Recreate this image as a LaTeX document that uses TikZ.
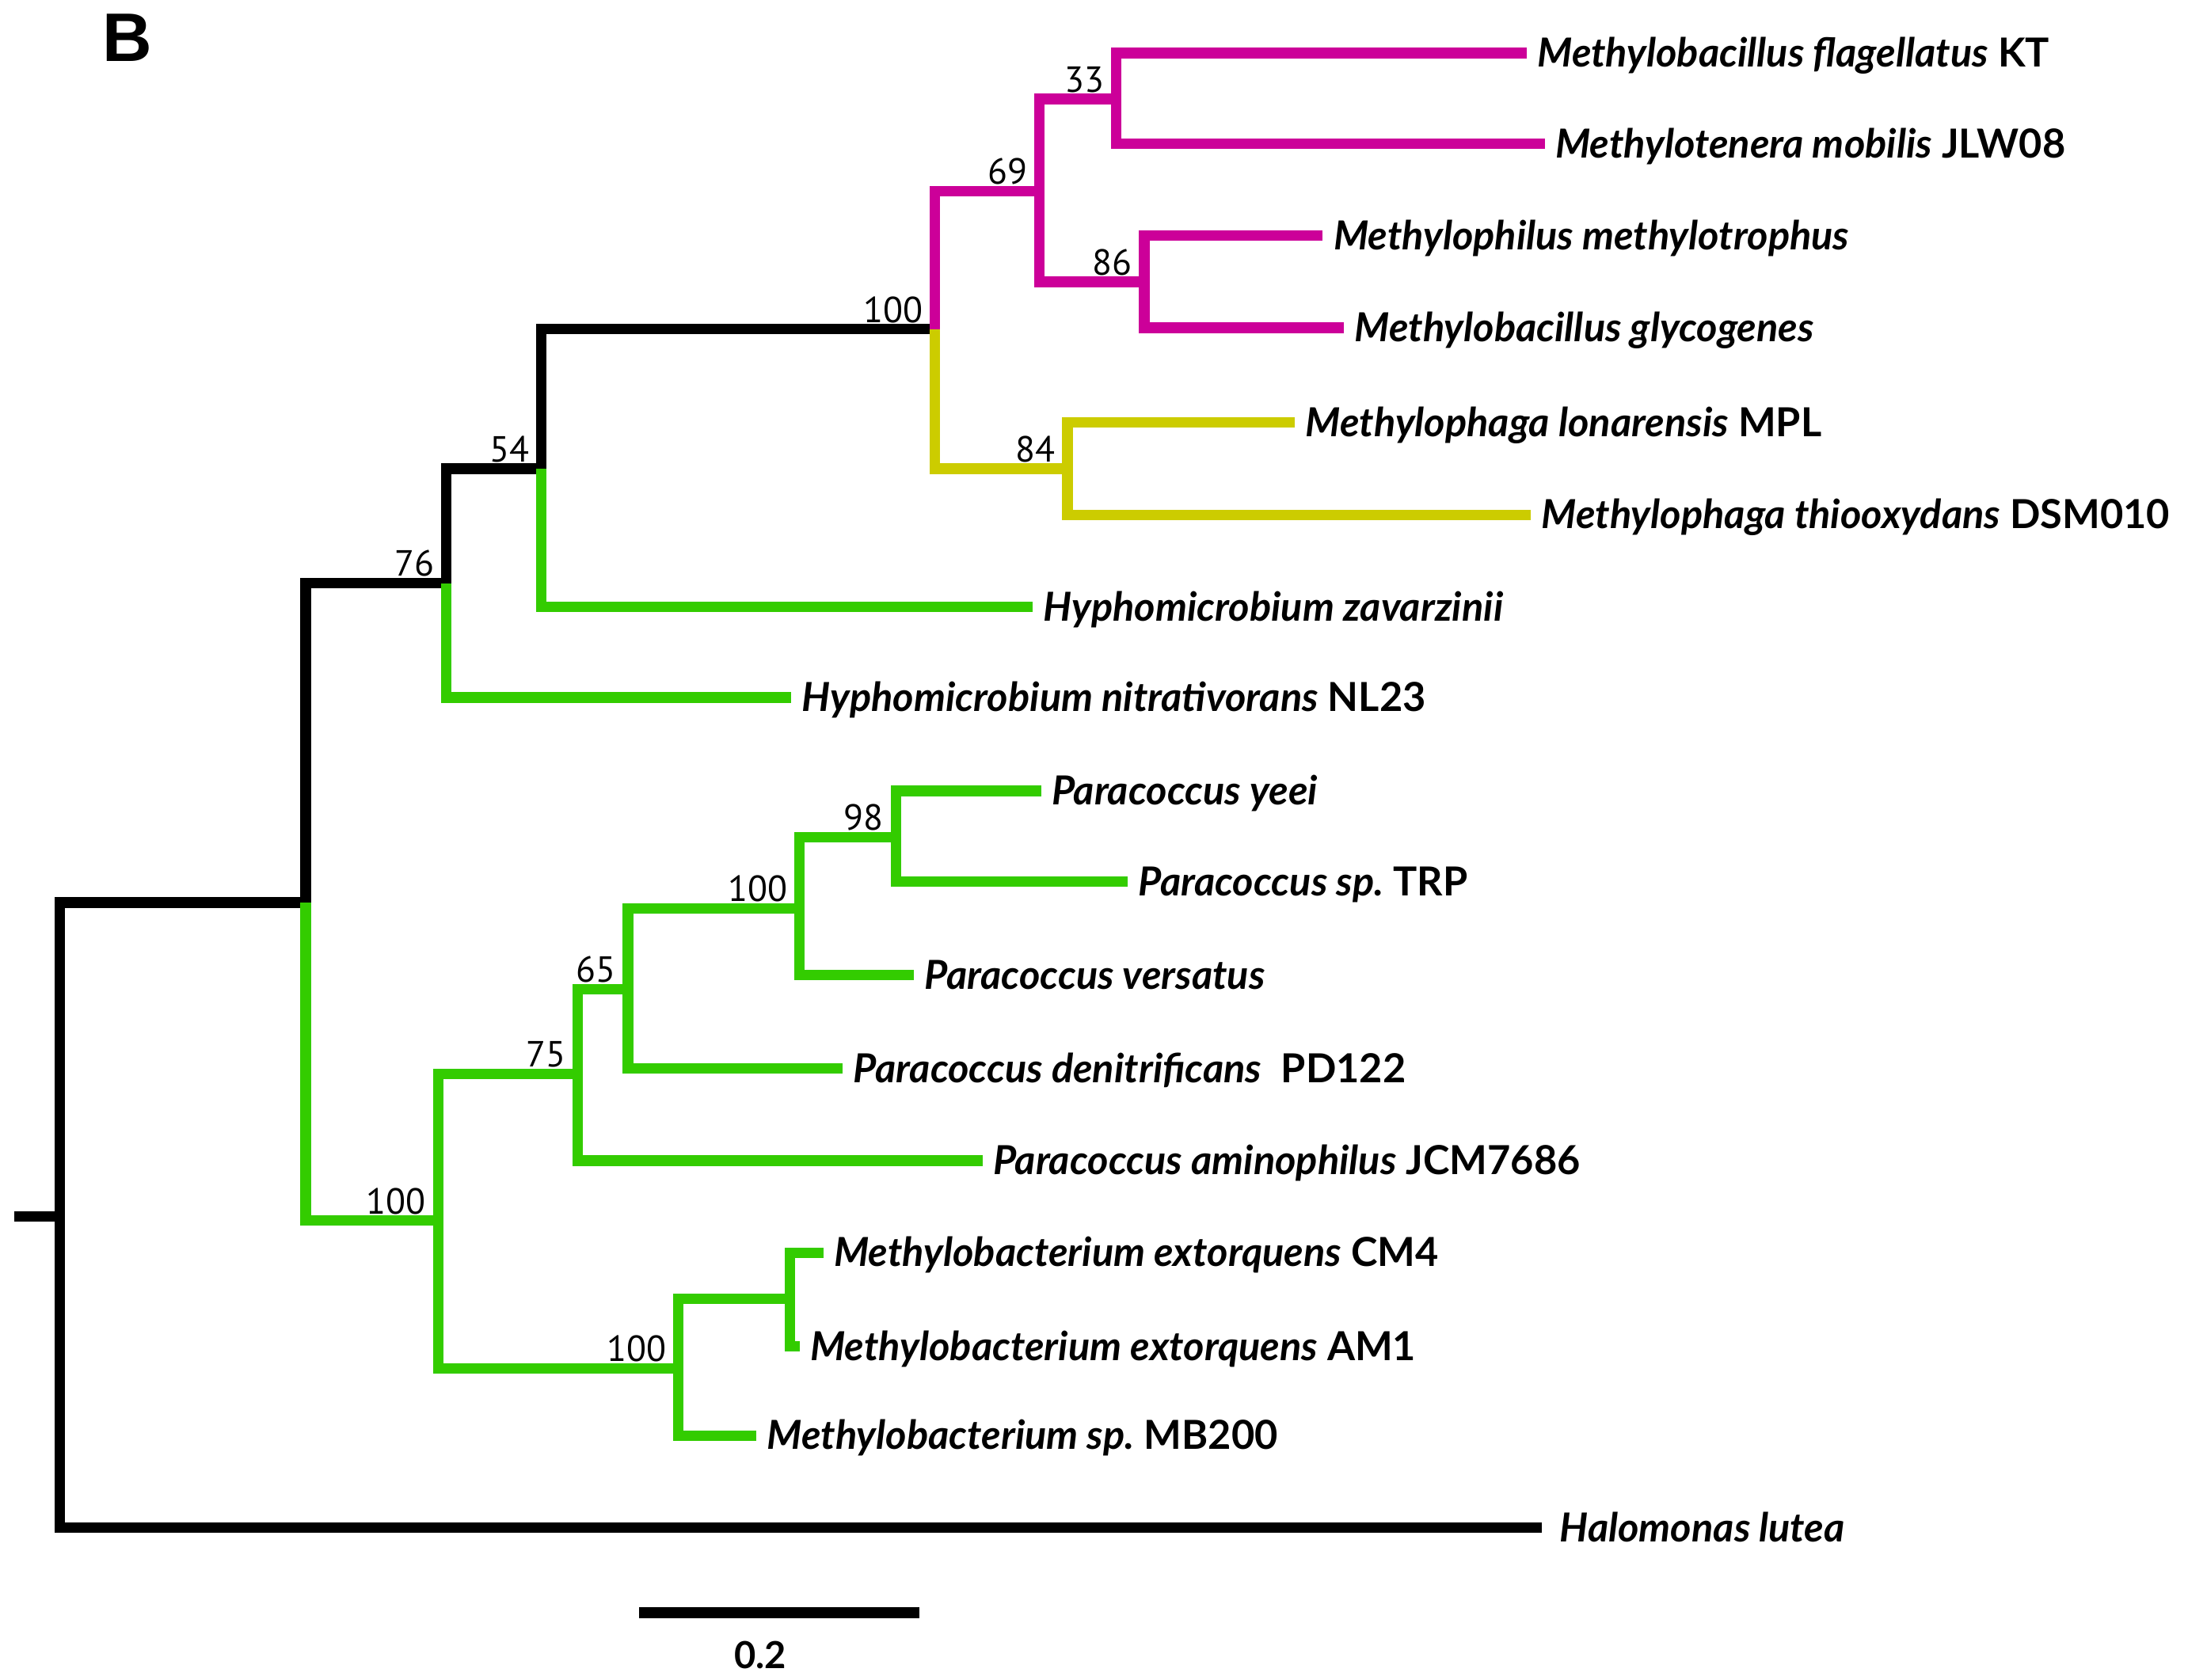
\documentclass[tikz,border=0pt]{standalone}
\usepackage{fontspec}
\setmainfont{Lato}
\newfontfamily\bootfont{PT Sans}
\newfontfamily\panelfont{Liberation Sans}
\definecolor{clademagenta}{RGB}{204,0,153}
\definecolor{cladeyellow}{RGB}{204,204,0}
\definecolor{cladegreen}{RGB}{51,204,0}
\tikzset{
	branch/.style={line width=2.13pt},
	blackbranch/.style={branch,black},
	magbranch/.style={branch,clademagenta},
	yelbranch/.style={branch,cladeyellow},
	greenbranch/.style={branch,cladegreen},
	taxon/.style={anchor=base west,inner sep=0pt,xshift=0.07cm,yshift=-0.1cm,font=\fontsize{8.15}{9}\selectfont\bfseries},
	boot/.style={anchor=base east,inner sep=0pt,xshift=-0.08cm,yshift=0.05cm,font=\bootfont\fontsize{7.4}{8}\selectfont},
}
\begin{document}
\begin{tikzpicture}[x=0.01cm,y=-0.01cm]
			\useasboundingbox (0,0) rectangle (1568,1204);
			\newcommand{\mysp}[2]{{\itshape #1}~#2}
			%Panel letter
			\node [anchor=base west,inner sep=0pt,font=\panelfont\fontsize{14}{16}\selectfont\bfseries] (panel) at (73,44) {B};
			%Root and its stub
			\coordinate (stub) at (10,872);
			\coordinate (root) at (43,872);
			\draw [blackbranch] (stub) -- (root);
			%Inner nodes
			\coordinate (nA) at (219,647);
			\coordinate (n76) at (320,418);
			\coordinate (n54) at (388,336);
			\coordinate (n100a) at (670,236);
			\coordinate (n69) at (745,137);
			\coordinate (n33) at (800,71);
			\coordinate (n86) at (820,202);
			\coordinate (n84) at (765,336);
			\coordinate (n100b) at (314,875);
			\coordinate (n75) at (414,770);
			\coordinate (n65) at (450,709);
			\coordinate (n100d) at (573,651);
			\coordinate (n98) at (642,600);
			\coordinate (n100c) at (486,981);
			\coordinate (nCM) at (566,931);
			%Tips
			\coordinate (tflag) at (1094,38);
			\coordinate (tmob) at (1107,103);
			\coordinate (tmeth) at (948,169);
			\coordinate (tglyc) at (963,235);
			\coordinate (tlon) at (928,303);
			\coordinate (tthio) at (1097,369);
			\coordinate (tzav) at (740,435);
			\coordinate (tnl) at (567,500);
			\coordinate (tyeei) at (746,567);
			\coordinate (ttrp) at (808,632);
			\coordinate (tvers) at (655,699);
			\coordinate (tdenit) at (604,766);
			\coordinate (tamino) at (704,832);
			\coordinate (tcm) at (590,898);
			\coordinate (tam) at (573,965);
			\coordinate (tmb) at (542,1029);
			\coordinate (thal) at (1105,1095);
			%Black backbone
			\draw [blackbranch] (root) |- (nA);
			\draw [blackbranch] (root) |- (thal);
			\draw [blackbranch] (nA) |- (n76);
			\draw [blackbranch] (n76) |- (n54);
			\draw [blackbranch] (n54) |- (n100a);
			%Magenta clade
			\draw [magbranch] (n100a) |- (n69);
			\draw [magbranch] (n69) |- (n33);
			\draw [magbranch] (n69) |- (n86);
			\draw [magbranch] (n33) |- (tflag);
			\draw [magbranch] (n33) |- (tmob);
			\draw [magbranch] (n86) |- (tmeth);
			\draw [magbranch] (n86) |- (tglyc);
			%Yellow clade
			\draw [yelbranch] (n100a) |- (n84);
			\draw [yelbranch] (n84) |- (tlon);
			\draw [yelbranch] (n84) |- (tthio);
			%Green branches
			\draw [greenbranch] (n54) |- (tzav);
			\draw [greenbranch] (n76) |- (tnl);
			\draw [greenbranch] (nA) |- (n100b);
			\draw [greenbranch] (n100b) |- (n75);
			\draw [greenbranch] (n100b) |- (n100c);
			\draw [greenbranch] (n75) |- (n65);
			\draw [greenbranch] (n75) |- (tamino);
			\draw [greenbranch] (n65) |- (n100d);
			\draw [greenbranch] (n65) |- (tdenit);
			\draw [greenbranch] (n100d) |- (n98);
			\draw [greenbranch] (n100d) |- (tvers);
			\draw [greenbranch] (n98) |- (tyeei);
			\draw [greenbranch] (n98) |- (ttrp);
			\draw [greenbranch] (n100c) |- (nCM);
			\draw [greenbranch] (n100c) |- (tmb);
			\draw [greenbranch] (nCM) |- (tcm);
			\draw [greenbranch] (nCM) |- (tam);
			%Bootstrap values
			\node [boot] (b76) at (n76) {76};
			\node [boot] (b54) at (n54) {54};
			\node [boot] (b100a) at (n100a) {100};
			\node [boot] (b69) at (n69) {69};
			\node [boot] (b33) at (n33) {33};
			\node [boot] (b86) at (n86) {86};
			\node [boot] (b84) at (n84) {84};
			\node [boot] (b100b) at (n100b) {100};
			\node [boot] (b75) at (n75) {75};
			\node [boot] (b65) at (n65) {65};
			\node [boot] (b100d) at (n100d) {100};
			\node [boot] (b98) at (n98) {98};
			\node [boot] (b100c) at (n100c) {100};
			%Taxa
			\node [taxon] (lflag) at (tflag) {\mysp{Methylobacillus flagellatus}{KT}};
			\node [taxon] (lmob) at (tmob) {\mysp{Methylotenera mobilis}{JLW08}};
			\node [taxon] (lmeth) at (tmeth) {\itshape Methylophilus methylotrophus};
			\node [taxon] (lglyc) at (tglyc) {\itshape Methylobacillus glycogenes};
			\node [taxon] (llon) at (tlon) {\mysp{Methylophaga lonarensis}{MPL}};
			\node [taxon] (lthio) at (tthio) {\mysp{Methylophaga thiooxydans}{DSM010}};
			\node [taxon] (lzav) at (tzav) {\itshape Hyphomicrobium zavarzinii};
			\node [taxon] (lnl) at (tnl) {\mysp{Hyphomicrobium nitrativorans}{NL23}};
			\node [taxon] (lyeei) at (tyeei) {\itshape Paracoccus yeei};
			\node [taxon] (ltrp) at (ttrp) {\mysp{Paracoccus sp.}{TRP}};
			\node [taxon] (lvers) at (tvers) {\itshape Paracoccus versatus};
			\node [taxon] (ldenit) at (tdenit) {\mysp{Paracoccus denitrificans}{\ PD122}};
			\node [taxon] (lamino) at (tamino) {\mysp{Paracoccus aminophilus}{JCM7686}};
			\node [taxon] (lcm) at (tcm) {\mysp{Methylobacterium extorquens}{CM4}};
			\node [taxon] (lam) at (tam) {\mysp{Methylobacterium extorquens}{AM1}};
			\node [taxon] (lmb) at (tmb) {\mysp{Methylobacterium sp.}{MB200}};
			\node [taxon,xshift=0.05cm] (lhal) at (thal) {\itshape Halomonas lutea};
			%Scale bar
			\coordinate (sbl) at (458,1156);
			\coordinate (sbr) at (659,1156);
			\draw [blackbranch] (sbl) -- (sbr);
			\node [anchor=base,inner sep=0pt,font=\fontsize{7.6}{8}\selectfont\bfseries] (sblabel) at (545,1196) {0.2};
			\end{tikzpicture}
\end{document}
